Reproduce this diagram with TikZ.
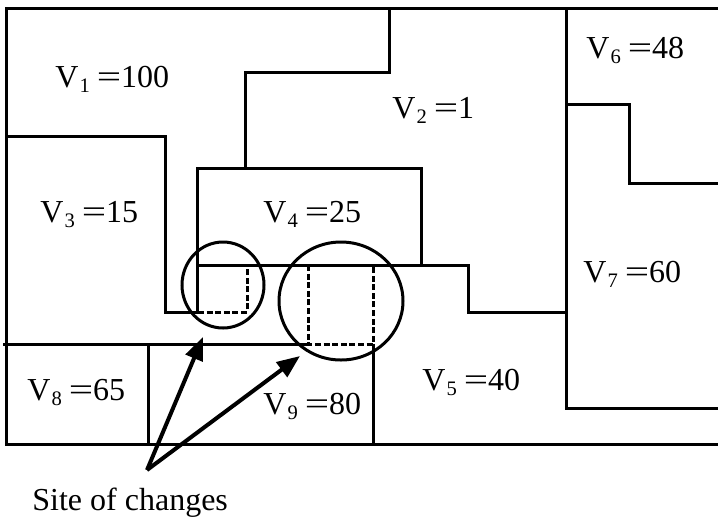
\documentclass[tikz,border=0pt]{standalone}
\usepackage{fontspec}
\usepackage{graphicx}
\setmainfont{Liberation Serif}
\usetikzlibrary{arrows.meta}
\newcommand{\vlab}[2]{V\kern0.5pt\raisebox{-2.5pt}{\fontsize{10.3}{11}\selectfont #1}\kern3.5pt\scalebox{1.35}[1]{=}#2}
\begin{document}
\begin{tikzpicture}[x=0.5pt,y=-0.5pt,
  wall/.style={line width=1.5pt, line join=miter},
  dashedge/.style={line width=1.5pt, dash pattern=on 3pt off 1.3pt},
  ring/.style={line width=1.5pt},
  lab/.style={anchor=base west, inner sep=0pt, font=\fontsize{16}{18}\selectfont},
  pointer/.style={line width=2pt, -{Triangle[length=11.5pt,width=9pt]}}]
\useasboundingbox (0,0) rectangle (718,516);
% outer frame
\draw[wall] (720,8) -- (6,8) -- (6,444) -- (720,444);
% V1 / V3
\draw[wall] (6,136) -- (165,136) -- (165,312) -- (198,312);
% V4 box and the line to V5
\draw[wall] (197,312) -- (197,168) -- (421,168) -- (421,265);
\draw[wall] (197,265) -- (468,265) -- (468,312) -- (566,312);
% V1 / V2
\draw[wall] (245,168) -- (245,72) -- (389,72) -- (389,8);
% V2 / V6,V7
\draw[wall] (566,8) -- (566,408) -- (720,408);
% V6 / V7
\draw[wall] (566,104) -- (629,104) -- (629,183) -- (720,183);
% lower row
\draw[wall] (3,344) -- (308,344);
\draw[wall] (148,344) -- (148,444);
\draw[wall] (373,344) -- (373,444);
% dashed squares
\draw[dashedge] (198,312) -- (247,312) -- (247,265);
\draw[dashedge] (308,265) -- (308,344) -- (373,344) -- (373,265);
% circles
\draw[ring] (223,285) ellipse [x radius=41, y radius=43];
\draw[ring] (341,301) ellipse [x radius=62, y radius=59];
% labels
\node[lab] (v1) at (55,87) {\vlab{1}{100}};
\node[lab] (v2) at (392,118) {\vlab{2}{1}};
\node[lab] (v6) at (586,58) {\vlab{6}{48}};
\node[lab] (v3) at (40,222) {\vlab{3}{15}};
\node[lab] (v4) at (263,222) {\vlab{4}{25}};
\node[lab] (v7) at (583,282) {\vlab{7}{60}};
\node[lab] (v8) at (27,400) {\vlab{8}{65}};
\node[lab] (v9) at (263,414) {\vlab{9}{80}};
\node[lab] (v5) at (422,390) {\vlab{5}{40}};
\node[lab] (site) at (32,510) {Site of changes};
% arrows
\coordinate (apex) at (147,470);
\coordinate (tipa) at (203,337);
\coordinate (tipb) at (300,356);
\draw[pointer] (apex) -- (tipa);
\draw[pointer] (apex) -- (tipb);
\end{tikzpicture}
\end{document}
